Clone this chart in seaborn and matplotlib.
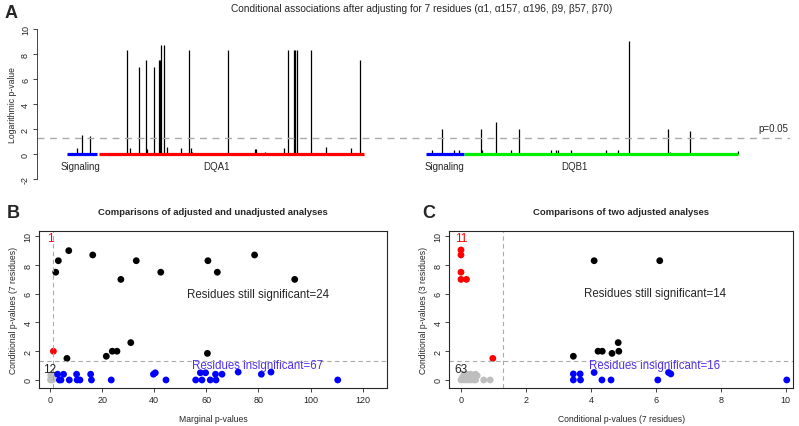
import numpy as np
import pandas as pd
import matplotlib
matplotlib.use("Agg")
import matplotlib.pyplot as plt
import seaborn as sns

# ---- panel A: residue position (negative = signal peptide) and -log10(p)
dqa1_pos = [-17, -13, -6, 26, 28, 36, 42, 43, 49, 53, 54, 55, 57, 60, 72, 79, 80, 81,
            112, 135, 136, 144, 160, 163, 168, 169, 171, 183, 196, 217, 225]
dqa1_logp = [0.5, 1.55, 1.45, 8.3, 0.5, 6.95, 7.5, 0.4, 7.0, 7.5, 7.5, 8.7, 8.7, 0.55, 0.5, 8.3, 0.5, 0.2,
             8.3, 0.4, 0.4, 0.15, 0.45, 8.3, 8.3, 8.3, 8.3, 8.3, 0.55, 0.5, 7.5]
dqb1_pos = [-28, -19, -9, -5, 14, 15, 27, 40, 47, 74, 78, 80, 91, 121, 131, 141, 174, 176, 193, 234]
dqb1_logp = [0.3, 2.0, 0.3, 0.3, 2.0, 0.3, 2.6, 0.3, 2.0, 0.3, 0.3, 0.3, 0.3, 0.3, 0.3, 9.05, 2.0, 0.15, 1.85, 0.25]
dqa1_signal = [-26, 0]
dqa1_mature = [2, 228]
dqb1_signal = [-33, 0]
dqb1_mature = [0, 234]
dqb1_offset = 314
threshold = -np.log10(0.05)

# ---- panel B: marginal vs conditional (7 residues)
b_black_x = [2.2, 3.2, 7.2, 16.4, 33.1, 42.5, 27.2, 60.6, 64.2, 78.5, 93.9, 6.5, 21.6, 23.9, 25.7, 31.0, 60.4]
b_black_y = [7.5, 8.3, 9.0, 8.7, 8.3, 7.5, 7.0, 8.3, 7.5, 8.7, 7.0, 1.5, 1.65, 2.0, 2.0, 2.6, 1.85]
b_red_x = [1.3]
b_red_y = [2.0]
b_grey_x = [0.2, 0.5, 0.8, 1.1, 0.3, 0.7, 1.0, 0.4]
b_grey_y = [0.0, 0.1, 0.2, 0.3, 0.35, 0.4, 0.0, 0.2]
b_blue_x = [2.9, 3.6, 4.2, 5.2, 7.4, 10.2, 10.4, 11.5, 15.6, 15.9, 23.5, 39.7, 40.4, 44.5, 55.9,
            57.7, 58.3, 59.7, 61.5, 63.5, 63.7, 66.0, 72.2, 81.1, 84.8, 110.4]
b_blue_y = [0.4, 0.0, 0.0, 0.4, 0.0, 0.4, 0.0, 0.0, 0.4, 0.0, 0.0, 0.4, 0.5, 0.0, 0.0,
            0.5, 0.0, 0.5, 0.0, 0.4, 0.0, 0.4, 0.55, 0.4, 0.55, 0.0]

# ---- panel C: conditional (7 residues) vs conditional (3 residues)
c_black_x = [4.1, 6.12, 3.46, 4.22, 4.35, 4.65, 4.84, 4.86]
c_black_y = [8.3, 8.3, 1.65, 2.0, 2.0, 1.85, 2.6, 2.0]
c_red_x = [0.0, 0.0, 0.0, 0.0, 0.17, 0.98]
c_red_y = [9.05, 8.7, 7.5, 7.0, 7.0, 1.5]
c_grey_x = [0.0, 0.05, 0.1, 0.15, 0.2, 0.25, 0.3, 0.35, 0.4, 0.45, 0.5, 0.1, 0.2, 0.3, 0.4, 0.45, 0.7, 0.9]
c_grey_y = [0.0, 0.2, 0.0, 0.3, 0.0, 0.2, 0.0, 0.3, 0.0, 0.4, 0.3, 0.4, 0.4, 0.4, 0.2, 0.0, 0.0, 0.0]
c_blue_x = [3.46, 3.46, 3.67, 3.68, 4.1, 4.34, 4.62, 6.06, 6.39, 6.46, 10.03]
c_blue_y = [0.42, 0.0, 0.42, 0.0, 0.52, 0.0, 0.0, 0.0, 0.52, 0.42, 0.0]

sns.set_style("ticks")
plt.rcParams['font.family'] = ['Liberation Sans', 'DejaVu Sans']

fig = plt.figure(figsize=(7.99, 4.27), dpi=100)
tick_fs = 6.5
lab_fs = 6.2

# ================= Panel A =================
axA = fig.add_axes([0.0463, 0.5667, 0.9424, 0.3747])
axA.vlines(dqa1_pos, 0, dqa1_logp, color="black", lw=0.9)
axA.vlines(np.array(dqb1_pos) + dqb1_offset, 0, dqb1_logp, color="black", lw=0.9)
axA.plot(dqa1_signal, [0, 0], color="#0000FF", lw=2.3, solid_capstyle="butt")
axA.plot(dqa1_mature, [0, 0], color="#FF0000", lw=2.3, solid_capstyle="butt")
axA.plot(np.array(dqb1_signal) + dqb1_offset, [0, 0], color="#0000FF", lw=2.3, solid_capstyle="butt")
axA.plot(np.array(dqb1_mature) + dqb1_offset, [0, 0], color="#00EE00", lw=2.3, solid_capstyle="butt")
axA.axhline(threshold, color="#AAAAAA", lw=1.0, ls=(0, (5, 4)))
axA.set_xlim(-51.3, 592.3)
axA.set_ylim(-2.4, 10.4)
axA.set_yticks([-2, 0, 2, 4, 6, 8, 10])
axA.set_yticklabels(["-2", "0", "2", "4", "6", "8", "10"], rotation=90, va="center", fontsize=tick_fs)
axA.tick_params(axis="y", length=3, width=0.6, pad=2)
axA.set_xticks([])
for s in ["top", "right", "bottom"]:
    axA.spines[s].set_visible(False)
axA.spines["left"].set_bounds(-2, 10)
axA.spines["left"].set_linewidth(0.6)
axA.set_ylabel("Logarithmic p-value", fontsize=lab_fs, labelpad=3)
axA.text(578, 2.1, "p=0.05", fontsize=7, ha="center", va="center")
axA.text(-14, -0.95, "Signaling", fontsize=7, ha="center", va="center")
axA.text(102, -0.95, "DQA1", fontsize=7, ha="center", va="center")
axA.text(297, -0.95, "Signaling", fontsize=7, ha="center", va="center")
axA.text(408, -0.95, "DQB1", fontsize=7, ha="center", va="center")
fig.text(0.528, 0.99, "Conditional associations after adjusting for 7 residues "
         "(\u03b11, \u03b1157, \u03b1196, \u03b29, \u03b257, \u03b270)",
         fontsize=7.3, ha="center", va="top")
fig.text(0.006, 0.968, "A", fontsize=13, fontweight="bold", ha="left", va="center")


def make_df(groups):
    rows = []
    for name, xs, ys in groups:
        for x, y in zip(xs, ys):
            rows.append({"x": x, "y": y, "group": name})
    return pd.DataFrame(rows)


palette = {"grey": "#BEBEBE", "blue": "#0000FF", "black": "#000000", "red": "#FF0000"}


def scatter_panel(ax, df, xlim, xticks):
    sns.scatterplot(data=df, x="x", y="y", hue="group", palette=palette, s=24,
                    linewidth=0, legend=False, ax=ax)
    ax.axhline(threshold, color="#AAAAAA", lw=0.8, ls=(0, (4, 3)))
    ax.axvline(threshold, color="#AAAAAA", lw=0.8, ls=(0, (4, 3)))
    ax.set_xlim(*xlim)
    ax.set_ylim(-0.58, 10.39)
    ax.set_xticks(xticks)
    ax.set_xticklabels([str(t) for t in xticks], fontsize=tick_fs)
    ax.set_yticks([0, 2, 4, 6, 8, 10])
    ax.set_yticklabels(["0", "2", "4", "6", "8", "10"], rotation=90, va="center", fontsize=tick_fs)
    ax.tick_params(length=3, width=0.6, pad=2)
    for s in ax.spines.values():
        s.set_linewidth(0.8)


# ================= Panel B =================
axB = fig.add_axes([0.0492, 0.0883, 0.4348, 0.3691])
dfB = make_df([("grey", b_grey_x, b_grey_y), ("blue", b_blue_x, b_blue_y),
               ("black", b_black_x, b_black_y), ("red", b_red_x, b_red_y)])
scatter_panel(axB, dfB, (-4.1, 129.2), [0, 20, 40, 60, 80, 100, 120])
axB.set_xlabel("Marginal p-values", fontsize=lab_fs, labelpad=7)
axB.set_ylabel("Conditional p-values (7 residues)", fontsize=lab_fs, labelpad=4)
axB.set_title("Comparisons of adjusted and unadjusted analyses", fontsize=6.8,
              fontweight="bold", pad=12)
axB.text(0, 9.9, "1", color="#FF0000", fontsize=8.5, ha="center", va="center")
axB.text(0, 0.78, "12", color="#222222", fontsize=8.5, ha="center", va="center")
axB.text(80, 6.0, "Residues still significant=24", fontsize=8.3, ha="center", va="center")
axB.text(79.7, 1.07, "Residues insignificant=67", fontsize=8.3, color="#5030F0",
         ha="center", va="center")
fig.text(0.008, 0.50, "B", fontsize=13, fontweight="bold", ha="left", va="center")

# ================= Panel C =================
axC = fig.add_axes([0.5623, 0.0883, 0.4305, 0.3691])
dfC = make_df([("grey", c_grey_x, c_grey_y), ("blue", c_blue_x, c_blue_y),
               ("black", c_black_x, c_black_y), ("red", c_red_x, c_red_y)])
scatter_panel(axC, dfC, (-0.36, 10.23), [0, 2, 4, 6, 8, 10])
axC.set_xlabel("Conditional p-values (7 residues)", fontsize=lab_fs, labelpad=7)
axC.set_ylabel("Conditional p-values (3 residues)", fontsize=lab_fs, labelpad=4)
axC.set_title("Comparisons of two adjusted analyses", fontsize=6.8,
              fontweight="bold", pad=12)
axC.text(0, 9.9, "11", color="#FF0000", fontsize=8.5, ha="center", va="center")
axC.text(0, 0.78, "63", color="#222222", fontsize=8.5, ha="center", va="center")
axC.text(5.97, 6.03, "Residues still significant=14", fontsize=8.3, ha="center", va="center")
axC.text(5.97, 1.07, "Residues insignificant=16", fontsize=8.3, color="#5030F0",
         ha="center", va="center")
fig.text(0.528, 0.50, "C", fontsize=13, fontweight="bold", ha="left", va="center")

fig.savefig("out.png", dpi=100)
